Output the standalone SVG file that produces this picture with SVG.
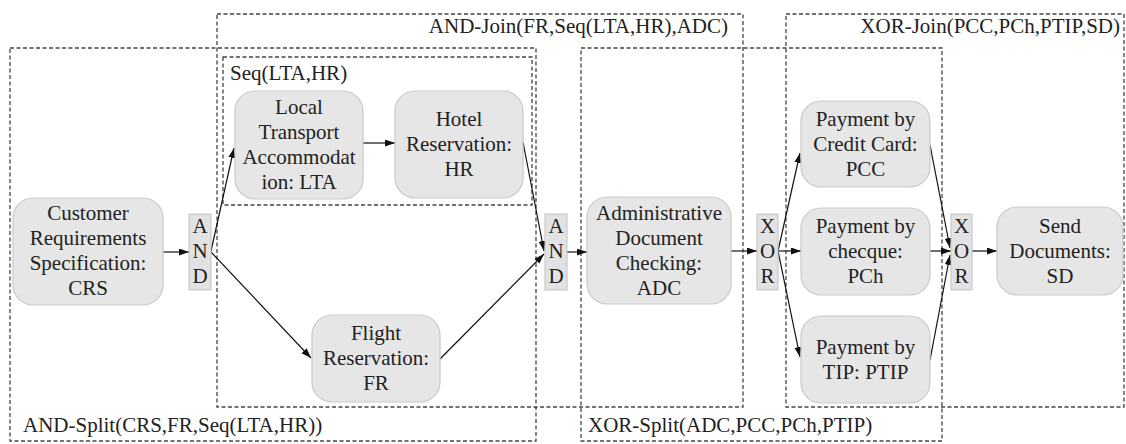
<svg xmlns="http://www.w3.org/2000/svg" width="1126" height="444" viewBox="0 0 1126 444">
<style>
text{font-family:"Liberation Serif","Times New Roman",serif;font-size:21px;fill:#222}
.c{text-anchor:middle}
.box{fill:none;stroke:#444;stroke-width:1.3;stroke-dasharray:4 2.5}
.node{fill:#e6e6e6;stroke:#c9c9c9;stroke-width:1.2}
.gate{fill:#e2e2e2;stroke:#c2c2c2;stroke-width:1}
.edge{fill:none;stroke:#111;stroke-width:1.2;marker-end:url(#ah)}
</style>
<defs>
<marker id="ah" markerUnits="userSpaceOnUse" markerWidth="11" markerHeight="8" refX="10" refY="3.5" orient="auto">
<path d="M0,0 L10,3.5 L0,7 z" fill="#111"/>
</marker>
</defs>
<rect width="1126" height="444" fill="#fff"/>
<g id="regions">
<g id="and-split"><rect class="box" x="10" y="48" width="526" height="393"/><text x="23" y="432">AND-Split(CRS,FR,Seq(LTA,HR))</text></g>
<g id="and-join"><rect class="box" x="217" y="14" width="526" height="393"/><text x="728" y="33" text-anchor="end">AND-Join(FR,Seq(LTA,HR),ADC)</text></g>
<g id="seq"><rect class="box" x="223" y="57" width="309" height="148"/><text x="230" y="80">Seq(LTA,HR)</text></g>
<g id="xor-split"><rect class="box" x="581" y="48" width="361" height="393"/><text x="588" y="432">XOR-Split(ADC,PCC,PCh,PTIP)</text></g>
<g id="xor-join"><rect class="box" x="786" y="14" width="338" height="393"/><text x="1120" y="33" text-anchor="end">XOR-Join(PCC,PCh,PTIP,SD)</text></g>
</g>
<g id="connectors">
<path class="edge" d="M163,252 L189,252"/>
<path class="edge" d="M211,251 L234,148"/>
<path class="edge" d="M211,252 L311,358"/>
<path class="edge" d="M363,143 L395,143"/>
<path class="edge" d="M523,142 L544,251"/>
<path class="edge" d="M440,359 L544,254"/>
<path class="edge" d="M567,252 L587,252"/>
<path class="edge" d="M731,251 L757,251"/>
<path class="edge" d="M778,251 L800,153"/>
<path class="edge" d="M778,251 L801,251"/>
<path class="edge" d="M778,251 L800,357"/>
<path class="edge" d="M930,145 L950,248"/>
<path class="edge" d="M930,251 L951,251"/>
<path class="edge" d="M930,360 L950,255"/>
<path class="edge" d="M972,251 L997,251"/>
</g>
<g id="CRS"><rect class="node" x="13" y="198" width="150" height="107" rx="20"/>
<text class="c" x="88" y="220">Customer</text><text class="c" x="88" y="245">Requirements</text><text class="c" x="88" y="270">Specification:</text><text class="c" x="88" y="295">CRS</text></g>
<g id="AND1"><rect class="gate" x="189" y="214" width="22" height="76"/>
<text class="c" x="200" y="233">A</text><text class="c" x="200" y="258">N</text><text class="c" x="200" y="283">D</text></g>
<g id="LTA"><rect class="node" x="235" y="91" width="128" height="108" rx="20"/>
<text class="c" x="299" y="114">Local</text><text class="c" x="299" y="139">Transport</text><text class="c" x="299" y="164">Accommodat</text><text class="c" x="299" y="189">ion: LTA</text></g>
<g id="HR"><rect class="node" x="395" y="91" width="128" height="107" rx="20"/>
<text class="c" x="459" y="126">Hotel</text><text class="c" x="459" y="151">Reservation:</text><text class="c" x="459" y="176">HR</text></g>
<g id="FR"><rect class="node" x="312" y="315" width="128" height="87" rx="20"/>
<text class="c" x="376" y="340">Flight</text><text class="c" x="376" y="365">Reservation:</text><text class="c" x="376" y="390">FR</text></g>
<g id="AND2"><rect class="gate" x="545" y="214" width="22" height="76"/>
<text class="c" x="556" y="233">A</text><text class="c" x="556" y="258">N</text><text class="c" x="556" y="283">D</text></g>
<g id="ADC"><rect class="node" x="587" y="197" width="144" height="107" rx="20"/>
<text class="c" x="659" y="220">Administrative</text><text class="c" x="659" y="245">Document</text><text class="c" x="659" y="270">Checking:</text><text class="c" x="659" y="295">ADC</text></g>
<g id="XOR1"><rect class="gate" x="757" y="214" width="21" height="76"/>
<text class="c" x="767.5" y="233">X</text><text class="c" x="767.5" y="258">O</text><text class="c" x="767.5" y="283">R</text></g>
<g id="PCC"><rect class="node" x="801" y="101" width="129" height="86" rx="20"/>
<text class="c" x="865.5" y="126">Payment by</text><text class="c" x="865.5" y="151">Credit Card:</text><text class="c" x="865.5" y="176">PCC</text></g>
<g id="PCh"><rect class="node" x="801" y="208" width="129" height="87" rx="20"/>
<text class="c" x="865.5" y="233">Payment by</text><text class="c" x="865.5" y="258">checque:</text><text class="c" x="865.5" y="283">PCh</text></g>
<g id="PTIP"><rect class="node" x="801" y="316" width="129" height="87" rx="20"/>
<text class="c" x="865.5" y="354">Payment by</text><text class="c" x="865.5" y="379">TIP: PTIP</text></g>
<g id="XOR2"><rect class="gate" x="951" y="214" width="21" height="76"/>
<text class="c" x="961.5" y="233">X</text><text class="c" x="961.5" y="258">O</text><text class="c" x="961.5" y="283">R</text></g>
<g id="SD"><rect class="node" x="997" y="207" width="126" height="88" rx="20"/>
<text class="c" x="1060" y="233">Send</text><text class="c" x="1060" y="258">Documents:</text><text class="c" x="1060" y="283">SD</text></g>
</svg>
